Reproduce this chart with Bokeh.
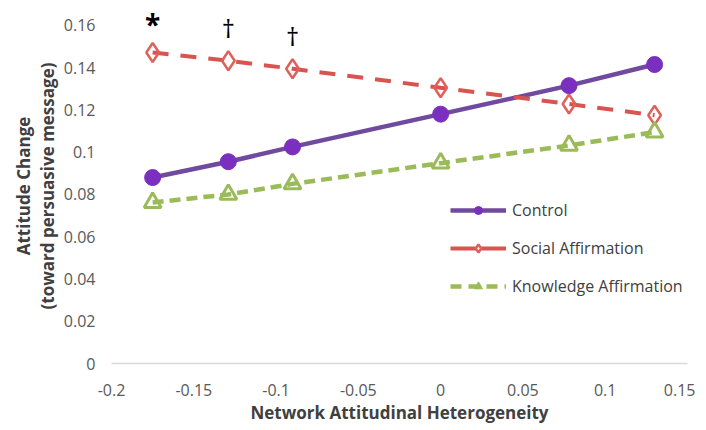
from bokeh.plotting import figure
from bokeh.models import Range1d, FixedTicker, CustomJSTickFormatter, Legend, LegendItem, Label
from bokeh.embed import file_html
from bokeh.resources import INLINE

# ---- data ----
x_vals = [-0.175, -0.129, -0.090, 0.0, 0.078, 0.130]
control = [0.088, 0.0955, 0.1025, 0.118, 0.1315, 0.1415]
social = [0.1472, 0.1433, 0.1395, 0.1305, 0.1228, 0.1175]
knowledge = [0.0762, 0.0800, 0.0850, 0.0948, 0.1032, 0.1095]
x_ticks = [-0.2, -0.15, -0.1, -0.05, 0, 0.05, 0.1, 0.15]
y_ticks = [0, 0.02, 0.04, 0.06, 0.08, 0.1, 0.12, 0.14, 0.16]
sig_marks = ["*", "\u2020", "\u2020"]
sig_x = [-0.175, -0.129, -0.090]
sig_y = [0.1605, 0.1588, 0.1552]
NAN = float("nan")

FONT = "Open Sans"
p = figure(width=695, height=426, output_backend="svg", toolbar_location=None,
           x_range=Range1d(-0.2, 0.15), y_range=Range1d(0, 0.168),
           min_border_left=111, min_border_right=8, min_border_top=8, min_border_bottom=63)
p.outline_line_color = None
p.xgrid.grid_line_color = None
p.ygrid.grid_line_color = None
p.background_fill_color = "white"

fmt = CustomJSTickFormatter(code="return String(Math.round(tick*100)/100);")
p.xaxis.ticker = FixedTicker(ticks=x_ticks)
p.yaxis.ticker = FixedTicker(ticks=y_ticks)
p.xaxis.formatter = fmt
p.yaxis.formatter = fmt
for ax in (p.xaxis, p.yaxis):
    ax.major_tick_line_color = None
    ax.minor_tick_line_color = None
    ax.major_label_text_font = FONT
    ax.major_label_text_font_size = "16px"
    ax.major_label_text_color = "#595959"
    ax.axis_label_text_font = FONT
    ax.axis_label_text_font_size = "17px"
    ax.axis_label_text_font_style = "bold"
    ax.axis_label_text_color = "#404040"
p.yaxis.axis_line_color = None
p.xaxis.axis_line_color = "#d9d9d9"
p.xaxis.axis_line_width = 1.5
p.xaxis.major_label_standoff = 14
p.yaxis.major_label_standoff = 10
p.xaxis.axis_label = "Network Attitudinal Heterogeneity"
p.xaxis.axis_label_standoff = 2
p.yaxis.axis_label = "Attitude Change\n(toward persuasive message)"
p.yaxis.axis_label_standoff = 2
p.yaxis.axis_label_text_line_height = 1.05

purple_line = "#6f4a9e"
purple = "#7b2fbf"
red = "#d9534f"
red_m = "#e0615c"
green = "#9bbb59"

c_line = p.line(x_vals, control, line_color=purple_line, line_width=4.5)
c_mark = p.scatter(x_vals, control, marker="circle", size=16, fill_color=purple, line_color=purple)

s_line = p.line(x_vals, social, line_color=red, line_width=4, line_dash="16 12")
s_mark = p.scatter(x_vals, social, marker="diamond", size=19, fill_color="white", fill_alpha=0.0,
                   line_color=red_m, line_width=2.5)

k_line = p.line(x_vals, knowledge, line_color=green, line_width=4.5, line_dash="11 6")
k_mark = p.scatter(x_vals, knowledge, marker="triangle", size=17, fill_color="white", fill_alpha=0.0,
                   line_color=green, line_width=3)

# legend-only glyphs (not drawn in the plot area)
c_leg = p.scatter([NAN], [NAN], marker="circle", size=12, fill_color=purple, line_color=purple)
s_leg_line = p.line([NAN, NAN], [NAN, NAN], line_color=red, line_width=4)
s_leg = p.scatter([NAN], [NAN], marker="diamond", size=13, fill_color="white", line_color=red_m, line_width=2.5)
k_leg_line = p.line([NAN, NAN], [NAN, NAN], line_color=green, line_width=4.5, line_dash="11 7")
k_leg = p.scatter([NAN], [NAN], marker="triangle", size=14, fill_color=green, line_color=green)

legend = Legend(items=[
    LegendItem(label="Control", renderers=[c_line, c_leg]),
    LegendItem(label="Social Affirmation", renderers=[s_leg_line, s_leg]),
    LegendItem(label="Knowledge Affirmation", renderers=[k_leg_line, k_leg]),
], location=(339, 66))
legend.border_line_color = None
legend.background_fill_alpha = 0
legend.label_text_font = FONT
legend.label_text_font_size = "16px"
legend.label_text_color = "#404040"
legend.glyph_width = 56
legend.glyph_height = 20
legend.spacing = 16
legend.label_standoff = 6
legend.padding = 0
legend.margin = 0
p.add_layout(legend)

for m, xv, yv in zip(sig_marks, sig_x, sig_y):
    p.add_layout(Label(x=xv, y=yv, text=m, text_font=FONT,
                       text_font_size="28px" if m == "*" else "26px",
                       text_font_style="bold" if m == "*" else "normal",
                       text_align="center", text_baseline="middle", text_color="black"))

open("out.html", "w").write(file_html(p, INLINE))
